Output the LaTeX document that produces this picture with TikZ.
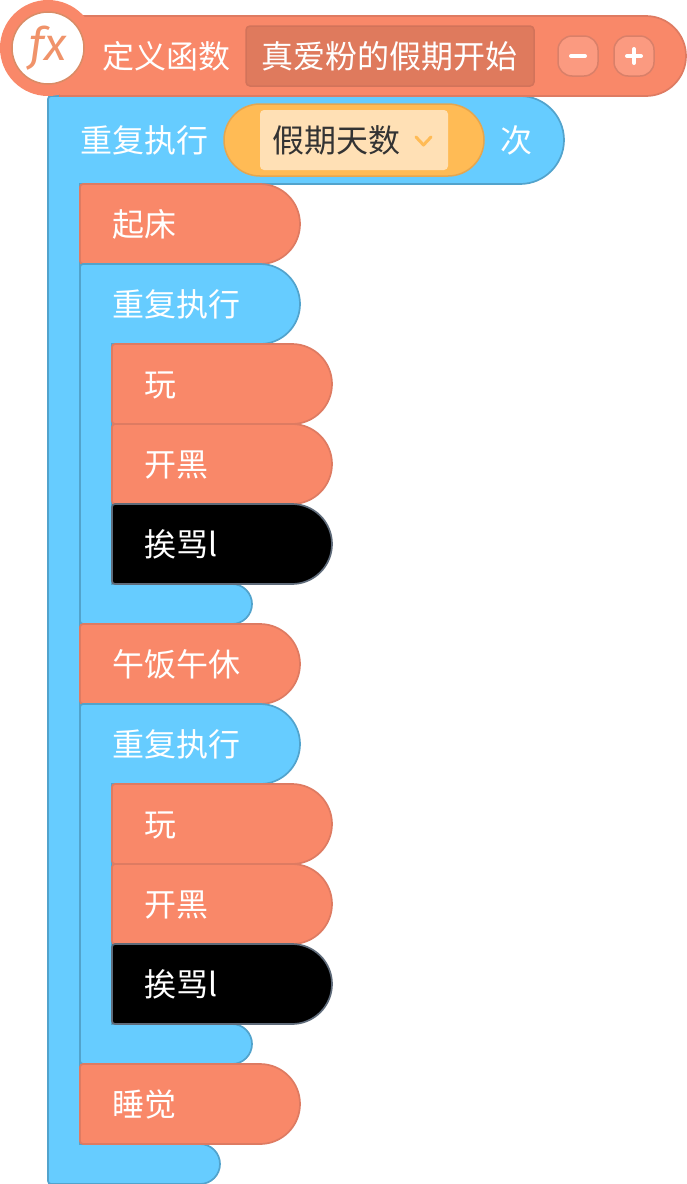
\documentclass[tikz,border=0pt]{standalone}
\usepackage{fontspec}
\setmainfont{Noto Sans CJK SC}
\newfontfamily\fxfont{Fira Sans}
\definecolor{blkorange}{HTML}{F98869}
\definecolor{edgeorange}{HTML}{DE7B62}
\definecolor{blkblue}{HTML}{66CCFF}
\definecolor{edgeblue}{HTML}{52A3CC}
\definecolor{fieldorange}{HTML}{DF7A5D}
\definecolor{fieldedge}{HTML}{D2735A}
\definecolor{btnfill}{HTML}{FB9A80}
\definecolor{btnedge}{HTML}{D98069}
\definecolor{pillfill}{HTML}{FFBB55}
\definecolor{pilledge}{HTML}{E5A64F}
\definecolor{pillinner}{HTML}{FFE0B5}
\definecolor{darkedge}{HTML}{5F6B7A}
\definecolor{fxcol}{HTML}{F0936A}
\definecolor{fxedge}{HTML}{D98C66}
\tikzset{
  orangeblk/.style={fill=blkorange,draw=edgeorange,line width=1.7pt},
  blueblk/.style={fill=blkblue,draw=edgeblue,line width=1.7pt},
  blackblk/.style={fill=black,draw=darkedge,line width=1.7pt},
  lbl/.style={anchor=base west,inner sep=0pt,text=white,font=\fontsize{32}{32}\selectfont},
  darklbl/.style={lbl,text=black!80},
  glyphline/.style={draw=white,line width=4pt,line cap=round},
}
% simple stack block: style, left x, top y, right x
\newcommand{\stackblk}[4]{%
  \path[#1] (#2,#3+3) arc[start angle=180,end angle=90,radius=3pt]
    -- (#4-40,#3) arc[start angle=90,end angle=-90,radius=40pt]
    -- (#2+3,#3+80) arc[start angle=270,end angle=180,radius=3pt] -- cycle;}
% C-shaped repeat block: left x, top y, header right x, foot top y, foot right x
\newcommand{\loopblk}[5]{%
  \path[blueblk] (#1,#2+3) arc[start angle=180,end angle=90,radius=3pt]
    -- (#3-40,#2) arc[start angle=90,end angle=-90,radius=40pt]
    -- (#1+32,#2+80) -- (#1+32,#4)
    -- (#5-20,#4) arc[start angle=90,end angle=-90,radius=20pt]
    -- (#1+3,#4+40) arc[start angle=270,end angle=180,radius=3pt] -- cycle;}
\begin{document}
\begin{tikzpicture}[x=1pt,y=-1pt]
\useasboundingbox (0,0) rectangle (686,1184);
% outer repeat
\path[blueblk] (48,99) arc[start angle=180,end angle=90,radius=3pt]
  -- (520,96) arc[start angle=90,end angle=-90,radius=44pt]
  -- (80,184) -- (80,1144) -- (200,1144) arc[start angle=90,end angle=-90,radius=20pt]
  -- (51,1184) arc[start angle=270,end angle=180,radius=3pt] -- cycle;
% header
\path[orangeblk] (60,16) -- (646,16) arc[start angle=90,end angle=-90,radius=40pt] -- (60,96) -- cycle;
\fill[blkorange] (48,48) circle[radius=48pt];
\fill[blkorange] (60,17) rectangle (120,95);
\filldraw[fill=white,draw=fxedge,line width=1.5pt] (48,48) circle[radius=36pt];
\node[inner sep=0pt,text=fxcol,font=\fxfont\itshape\fontsize{46}{46}\selectfont] (fx) at (48,48.5) {fx};
\node[lbl] (deflabel) at (102,68) {定义函数};
\path[fill=fieldorange,draw=fieldedge,line width=1.5pt,rounded corners=4pt] (246,26) rectangle (534,86);
\node[lbl] (funcname) at (261,68) {真爱粉的假期开始};
\path[fill=btnfill,draw=btnedge,line width=1.5pt,rounded corners=14pt] (558,36) rectangle (598,76);
\path[fill=btnfill,draw=btnedge,line width=1.5pt,rounded corners=14pt] (614,36) rectangle (654,76);
\draw[glyphline] (571,56) -- (585,56);
\draw[glyphline] (627,56) -- (641,56) (634,49) -- (634,63);
% outer repeat contents
\node[lbl] (rep0) at (80,152) {重复执行};
\path[fill=pillfill,draw=pilledge,line width=1.5pt] (260,104) -- (448,104) arc[start angle=90,end angle=-90,radius=36pt] -- (260,176) arc[start angle=270,end angle=90,radius=36pt] -- cycle;
\path[fill=pillinner,rounded corners=4pt] (260,110) rectangle (448,170);
\node[darklbl] (days) at (272,152) {假期天数};
\draw[draw=pillfill,line width=3pt,line cap=round,line join=round] (416,137) -- (423.5,145) -- (431,137);
\node[lbl] (times) at (500,152) {次};
% first inner loop
\stackblk{orangeblk}{80}{184}{300}
\node[lbl] (wake) at (112,236) {起床};
\loopblk{80}{264}{300}{584}{252}
\node[lbl] (rep1) at (112,316) {重复执行};
\stackblk{orangeblk}{112}{344}{332}
\node[lbl] (play1) at (144,396) {玩};
\stackblk{orangeblk}{112}{424}{332}
\node[lbl] (game1) at (144,476) {开黑};
\stackblk{blackblk}{112}{504}{332}
\node[lbl] (scold1) at (144,556) {挨骂l};
% lunch
\stackblk{orangeblk}{80}{624}{300}
\node[lbl] (lunch) at (112,676) {午饭午休};
% second inner loop
\loopblk{80}{704}{300}{1024}{252}
\node[lbl] (rep2) at (112,756) {重复执行};
\stackblk{orangeblk}{112}{784}{332}
\node[lbl] (play2) at (144,836) {玩};
\stackblk{orangeblk}{112}{864}{332}
\node[lbl] (game2) at (144,916) {开黑};
\stackblk{blackblk}{112}{944}{332}
\node[lbl] (scold2) at (144,996) {挨骂l};
% sleep
\stackblk{orangeblk}{80}{1064}{300}
\node[lbl] (sleep) at (112,1116) {睡觉};
\end{tikzpicture}
\end{document}
